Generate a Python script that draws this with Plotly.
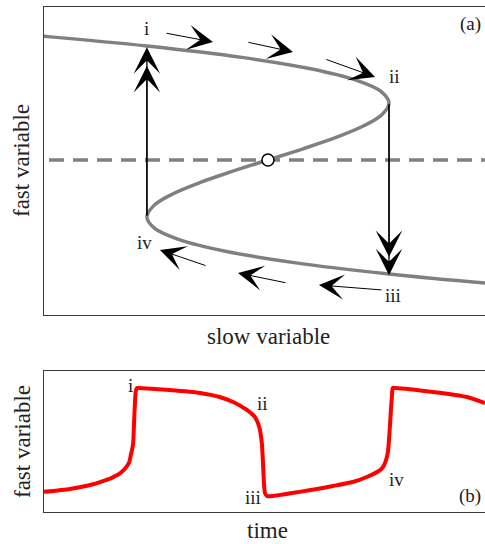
import plotly.graph_objects as go

# ---------------- data: panel (a) ----------------
# S-shaped nullcline (slow variable w, fast variable v)
nc_v = [2.3, 2.16, 2.0, 1.8, 1.6, 1.4, 1.2, 1.0, 0.8, 0.6, 0.4, 0.2, 0.0,
        -0.2, -0.4, -0.6, -0.8, -1.0, -1.2, -1.4, -1.6, -1.8, -2.0, -2.16, -2.3]
nc_w = [-1.756, -1.199, -0.667, -0.144, 0.235, 0.485, 0.624, 0.667, 0.629, 0.528, 0.379, 0.197, 0.0,
        -0.197, -0.379, -0.528, -0.629, -0.667, -0.624, -0.485, -0.235, 0.144, 0.667, 1.199, 1.756]
fixed_point = (0.0, 0.0)
dashed_v = 0.0

# slow-flow arrows along branches: (tail_w, tail_v, tip_w, tip_v)
slow_arrows = [
    (-0.567, 2.228, -0.303, 2.070),
    (-0.116, 2.070, 0.138, 1.895),
    (0.314, 1.772, 0.590, 1.456),
    (-0.336, -1.860, -0.595, -1.579),
    (0.105, -2.158, -0.165, -1.982),
    (0.634, -2.281, 0.281, -2.193),
]
# fast jumps: (w, v_from, v_tip1, v_tip2)
jumps = [
    (-0.667, -1.0, 1.98, 1.65),
    (0.667, 1.0, -2.02, -1.70),
]
labels_a = [("i", -0.667, 2.30), ("ii", 0.700, 1.456), ("iii", 0.689, -2.37), ("iv", -0.678, -1.44)]

# ---------------- data: panel (b) ----------------
t_vals = [0.0, 0.59, 1.0, 1.27, 1.50, 1.66, 1.73, 1.84, 1.93, 1.97, 2.02, 2.04, 2.06, 2.08, 2.11, 2.15,
          2.85, 3.54, 3.98, 4.29, 4.60, 4.78, 4.88, 4.94, 4.97, 5.01, 5.06,
          5.80, 6.55, 7.00, 7.32, 7.62, 7.70, 7.76, 7.80, 7.83, 7.86, 7.89, 7.91, 7.96,
          8.82, 9.59, 10.0]
v_vals = [-1.92, -1.81, -1.68, -1.55, -1.42, -1.28, -1.21, -1.04, -0.81, -0.53, -0.11, 0.60, 1.36, 1.85, 2.00, 2.00,
          1.92, 1.81, 1.66, 1.47, 1.17, 0.91, 0.53, -0.08, -0.98, -1.96, -2.08,
          -1.92, -1.70, -1.55, -1.36, -1.10, -0.95, -0.70, -0.40, 0.20, 1.00, 1.70, 2.00, 2.00,
          1.85, 1.66, 1.43]
labels_b = [("i", 1.95, 2.08), ("ii", 4.96, 1.40), ("iii", 4.74, -2.15), ("iv", 8.0, -1.47)]

# ---------------- figure ----------------
FONT = "Liberation Serif"
GREY = "#808080"
TXT = "#222222"
fig = go.Figure()

fig.add_trace(go.Scatter(x=[-2, 2], y=[dashed_v, dashed_v], mode="lines",
                         line=dict(color=GREY, width=3.5, dash="15px,9px"),
                         xaxis="x", yaxis="y", hoverinfo="skip"))
fig.add_trace(go.Scatter(x=nc_w, y=nc_v, mode="lines",
                         line=dict(color=GREY, width=3.5, shape="spline"),
                         xaxis="x", yaxis="y", hoverinfo="skip"))

annotations = []
for (w, v0, v1, v2) in jumps:
    for vt in (v1, v2):
        annotations.append(dict(x=w, y=vt, ax=w, ay=v0, xref="x", yref="y", axref="x", ayref="y",
                                text="", showarrow=True, arrowhead=3, arrowsize=3.4,
                                arrowwidth=1.3, arrowcolor="black", standoff=0))
for (tw, tv, hw, hv) in slow_arrows:
    annotations.append(dict(x=hw, y=hv, ax=tw, ay=tv, xref="x", yref="y", axref="x", ayref="y",
                            text="", showarrow=True, arrowhead=3, arrowsize=4.2,
                            arrowwidth=1.0, arrowcolor="black", standoff=0))

fig.add_trace(go.Scatter(x=[fixed_point[0]], y=[fixed_point[1]], mode="markers",
                         marker=dict(size=12, color="white", line=dict(color="black", width=1.5)),
                         xaxis="x", yaxis="y", hoverinfo="skip"))

for (txt, w, v) in labels_a:
    annotations.append(dict(x=w, y=v, xref="x", yref="y", text=txt, showarrow=False,
                            xanchor="center", yanchor="middle",
                            font=dict(family=FONT, size=19, color=TXT)))

fig.add_trace(go.Scatter(x=t_vals, y=v_vals, mode="lines",
                         line=dict(color="#ff0000", width=4, shape="spline", smoothing=0.6),
                         xaxis="x2", yaxis="y2", hoverinfo="skip"))
for (txt, t, v) in labels_b:
    annotations.append(dict(x=t, y=v, xref="x2", yref="y2", text=txt, showarrow=False,
                            xanchor="center", yanchor="middle",
                            font=dict(family=FONT, size=19, color=TXT)))

def paper_text(txt, px, py, size, angle=0):
    return dict(x=px / 485, y=1 - py / 544, xref="paper", yref="paper", text=txt,
                showarrow=False, xanchor="center", yanchor="middle", textangle=angle,
                font=dict(family=FONT, size=size, color=TXT))

annotations += [
    paper_text("(a)", 470, 24, 19),
    paper_text("(b)", 470, 496, 19),
    paper_text("slow variable", 268, 336, 23),
    paper_text("time", 267, 530, 23),
    paper_text("fast variable", 22, 161, 23, -90),
    paper_text("fast variable", 22, 442, 23, -90),
]

ax_common = dict(showgrid=False, zeroline=False, showticklabels=False, ticks="",
                 linecolor="#3a3a3a", linewidth=1, showline=True)
fig.update_layout(
    width=485, height=544, margin=dict(l=0, r=0, t=0, b=0),
    paper_bgcolor="white", plot_bgcolor="white", showlegend=False,
    xaxis=dict(domain=[44 / 485, 1.0], range=[-1.234, 1.196], anchor="y", mirror=True, **ax_common),
    yaxis=dict(domain=[(544 - 315) / 544, (544 - 7) / 544], range=[-2.719, 2.684], anchor="x", **ax_common),
    xaxis2=dict(domain=[44 / 485, 1.0], range=[0, 10], anchor="y2", mirror=True, **ax_common),
    yaxis2=dict(domain=[(544 - 512) / 544, (544 - 371) / 544], range=[-2.68, 2.64], anchor="x2", **ax_common),
    annotations=annotations,
)

fig.write_html("out.html")
